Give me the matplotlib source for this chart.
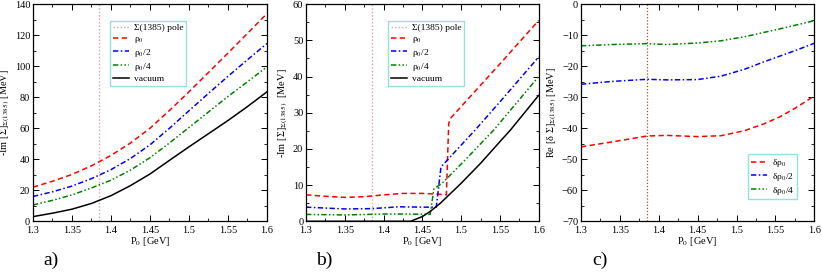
import matplotlib
matplotlib.use("Agg")
import matplotlib.pyplot as plt
from matplotlib.ticker import MultipleLocator

plt.rcParams['font.family'] = ['Liberation Serif', 'DejaVu Serif']
plt.rcParams['mathtext.fontset'] = 'stix'

# ---- panel a: -Im Sigma, smooth curves
xa = [1.30, 1.325, 1.35, 1.375, 1.40, 1.425, 1.45, 1.475, 1.50, 1.525, 1.55, 1.575, 1.60]
a_rho0 = [22.0, 25.8, 30.2, 35.8, 42.5, 50.5, 60.0, 71.5, 83.5, 96.0, 108.5, 121.2, 134.0]
a_rho2 = [16.0, 19.0, 22.7, 27.5, 33.3, 40.5, 49.3, 60.0, 71.3, 82.5, 93.5, 104.2, 114.7]
a_rho4 = [10.5, 13.5, 17.0, 21.5, 26.5, 33.0, 41.0, 50.5, 60.5, 70.5, 80.5, 90.0, 99.6]
a_vac = [3.0, 5.2, 7.8, 11.5, 16.5, 23.0, 30.5, 39.3, 48.0, 56.5, 65.0, 74.0, 83.5]

# ---- panel b: -Im Sigma with thresholds
xb_rho0 = [1.30, 1.325, 1.35, 1.375, 1.40, 1.425, 1.45, 1.47, 1.481, 1.484, 1.486, 1.50, 1.55, 1.60]
b_rho0 = [7.3, 6.9, 6.6, 6.8, 7.3, 7.7, 7.7, 7.5, 7.3, 27.0, 28.4, 31.7, 43.5, 55.5]
xb_rho2 = [1.30, 1.35, 1.385, 1.42, 1.45, 1.468, 1.474, 1.486, 1.518, 1.55, 1.60]
b_rho2 = [3.9, 3.4, 3.5, 4.0, 3.9, 3.9, 15.0, 17.8, 25.2, 33.0, 45.4]
xb_rho4 = [1.30, 1.35, 1.40, 1.43, 1.46, 1.465, 1.4755, 1.50, 1.542, 1.60]
b_rho4 = [1.9, 1.75, 2.0, 2.0, 1.9, 9.0, 10.5, 15.8, 25.2, 40.0]
xb_vac = [1.30, 1.435, 1.45, 1.46, 1.4733, 1.50, 1.525, 1.55, 1.5635, 1.60]
b_vac = [0.0, 0.0, 1.3, 2.7, 5.0, 10.5, 16.0, 22.0, 25.2, 34.8]

# ---- panel c: Re delta Sigma
xc = [1.30, 1.34, 1.385, 1.41, 1.45, 1.48, 1.51, 1.535, 1.555, 1.575, 1.60]
c_rho0 = [-46.0, -44.4, -42.5, -42.3, -42.7, -42.4, -40.8, -38.6, -36.4, -33.6, -29.6]
c_rho2 = [-25.8, -24.9, -24.2, -24.4, -24.3, -23.2, -21.0, -18.6, -16.8, -15.0, -12.6]
c_rho4 = [-13.4, -13.0, -12.7, -13.0, -12.5, -11.8, -10.5, -9.1, -8.0, -6.8, -5.3]

pole = 1.385

lw = 1.1
s_rho0 = dict(color='red', ls=(0, (3.5, 2.2)), lw=lw)
s_rho2 = dict(color='blue', ls=(0, (3.5, 1.6, 1.0, 1.6)), lw=lw)
s_rho4 = dict(color='green', ls=(0, (3.5, 1.5, 1.0, 1.5, 1.0, 1.5)), lw=lw)
s_vac = dict(color='black', ls='-', lw=lw)
box_col = '#78dcd4'

fig = plt.figure(figsize=(8.22, 2.73), dpi=100)
axa = fig.add_axes([0.0401, 0.1895, 0.2847, 0.795])
axb = fig.add_axes([0.3723, 0.1895, 0.2830, 0.795])
axc = fig.add_axes([0.7068, 0.1895, 0.2838, 0.795])


def style(ax, ymin, ymax, major, minor):
    ax.set_xlim(1.3, 1.6)
    ax.set_ylim(ymin, ymax)
    ax.xaxis.set_major_locator(MultipleLocator(0.05))
    ax.xaxis.set_minor_locator(MultipleLocator(0.025))
    ax.yaxis.set_major_locator(MultipleLocator(major))
    ax.yaxis.set_minor_locator(MultipleLocator(minor))
    ax.tick_params(which='both', direction='in', top=True, right=True, labelsize=7.5)
    ax.tick_params(axis='x', pad=3.5)
    ax.tick_params(axis='y', pad=2)
    ax.tick_params(which='major', length=4, width=0.7)
    ax.tick_params(which='minor', length=2, width=0.6)
    ax.set_xticks([1.3, 1.35, 1.4, 1.45, 1.5, 1.55, 1.6])
    ax.set_xticklabels(['1.3', '1.35', '1.4', '1.45', '1.5', '1.55', '1.6'])
    for sp in ax.spines.values():
        sp.set_linewidth(0.9)
    ax.set_xlabel(r'P$_0$ [GeV]', fontsize=7.5, labelpad=0)


def legend(ax, x, y):
    leg = ax.legend(loc='upper left', bbox_to_anchor=(x, y), borderaxespad=0,
                    fontsize=6.8, frameon=True, fancybox=False, handlelength=1.7,
                    labelspacing=0.2, handletextpad=0.5, borderpad=0.3)
    leg.get_frame().set_edgecolor(box_col)
    leg.get_frame().set_linewidth(1.0)


# a)
axa.axvline(pole, color='#e0a0a8', ls=(0, (1, 1.5)), lw=1.0, label='Σ(1385) pole')
axa.plot(xa, a_rho0, label='ρ$_0$', **s_rho0)
axa.plot(xa, a_rho2, label='ρ$_0$/2', **s_rho2)
axa.plot(xa, a_rho4, label='ρ$_0$/4', **s_rho4)
axa.plot(xa, a_vac, label='vacuum', **s_vac)
style(axa, 0, 140, 20, 10)
axa.set_ylabel(r'-Im [Σ]$_{\Sigma(1385)}$ [MeV]', fontsize=7.5, labelpad=2)
legend(axa, 0.329, 0.923)

# b)
axb.axvline(pole, color='#e0a0a8', ls=(0, (1, 1.5)), lw=1.0, label='Σ(1385) pole')
axb.plot(xb_rho0, b_rho0, label='ρ$_0$', **s_rho0)
axb.plot(xb_rho2, b_rho2, label='ρ$_0$/2', **s_rho2)
axb.plot(xb_rho4, b_rho4, label='ρ$_0$/4', **s_rho4)
axb.plot(xb_vac, b_vac, label='vacuum', **s_vac)
style(axb, 0, 60, 10, 5)
axb.set_ylabel(r'-Im [Σ]$_{\Sigma(1385)}$  [MeV]', fontsize=7.5, labelpad=2)
legend(axb, 0.354, 0.923)

# c)
axc.axvline(pole, color='#a0522d', ls=(0, (1, 1.5)), lw=0.9)
axc.plot(xc, c_rho0, label='δρ$_0$', **s_rho0)
axc.plot(xc, c_rho2, label='δρ$_0$/2', **s_rho2)
axc.plot(xc, c_rho4, label='δρ$_0$/4', **s_rho4)
style(axc, -70, 0, 10, 5)
axc.set_ylabel(r'Re [δ Σ]$_{\Sigma(1385)}$ [MeV]', fontsize=7.5, labelpad=2)
legend(axc, 0.716, 0.31)

fig.text(0.062, 0.048, 'a)', fontsize=14, ha='center', va='center')
fig.text(0.394, 0.048, 'b)', fontsize=14, ha='center', va='center')
fig.text(0.730, 0.048, 'c)', fontsize=14, ha='center', va='center')

fig.savefig('out.png', dpi=100)
